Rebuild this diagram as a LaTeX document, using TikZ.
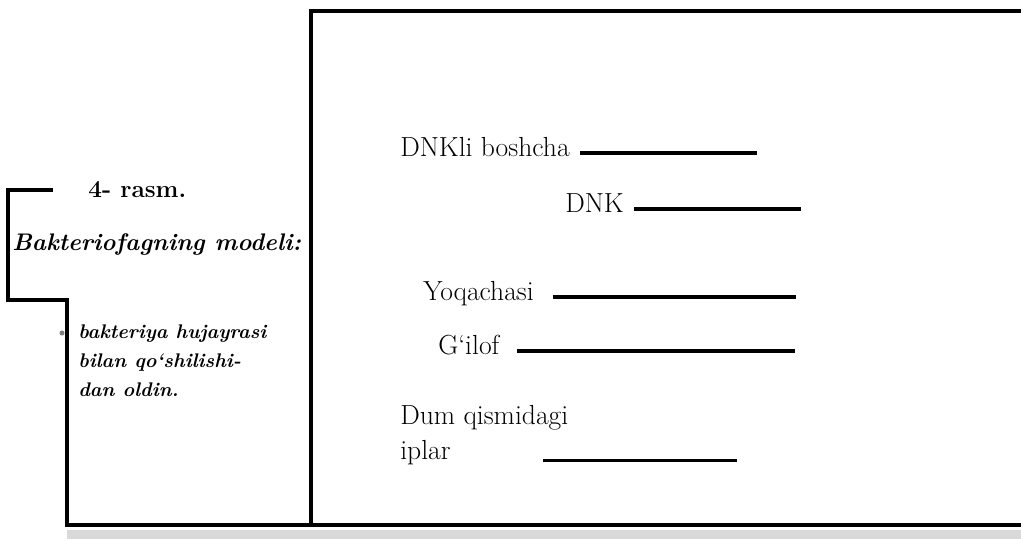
\documentclass[tikz,border=0pt]{standalone}
\usepackage{fontspec}
\begin{document}
\begin{tikzpicture}[x=0.75pt,y=-0.75pt,
        frame/.style={line width=2.4pt},
        leader/.style={line width=2.4pt},
        part/.style={inner sep=0pt,anchor=west,text height=0.7em,text depth=0.2em,
            font=\fontsize{20.7}{20.7}\selectfont}]
        \useasboundingbox (0,0) rectangle (1021,544);
        %% Frame
        \draw[frame] (1030,11) -- (311,11) -- (311,525);
        \draw[frame] (53,190) -- (8,190) -- (8,300) -- (67,300) -- (67,525) -- (1030,525);
        \fill[gray!30] (67,530) rectangle (1030,539);
        %% Caption
        \node[inner sep=0pt,anchor=base west,font=\fontsize{18.3}{18.3}\selectfont\bfseries] (fig) at (88,197) {4- rasm.};
        \node[inner sep=0pt,anchor=base west,font=\fontsize{18}{18}\selectfont\bfseries\itshape] (title) at (12,250) {Bakteriofagning modeli:};
        \fill[gray] (62,333) circle (1.9pt);
        \node[inner sep=0pt,anchor=north west,align=left,font=\fontsize{14.8}{21.75}\selectfont\bfseries\itshape] (note) at (78,325)
            {bakteriya hujayrasi\\bilan qo‘shilishi-\\dan oldin.};
        %% Parts
        \node[part] (head) at (400,153) {DNKli boshcha};
        \draw[leader] ([xshift=7.5pt]head.east) -- ++(177,0);
        \node[part] (dna) at (565,209) {DNK};
        \draw[leader] ([xshift=7.5pt]dna.east) -- ++(167,0);
        \node[part] (collar) at (423,297) {Yoqachasi};
        \draw[leader] ([xshift=14pt]collar.east) -- ++(243,0);
        \node[part] (sheath) at (438,351) {G‘ilof};
        \draw[leader] ([xshift=13pt]sheath.east) -- ++(278,0);
        \node[inner sep=0pt,anchor=north west,align=left,font=\fontsize{20.7}{26}\selectfont] (tail) at (400,405)
            {Dum qismidagi\\iplar};
        \draw[leader] ([shift={(143,-4)}]tail.south west) -- ++(194,0);
\end{tikzpicture}
\end{document}
